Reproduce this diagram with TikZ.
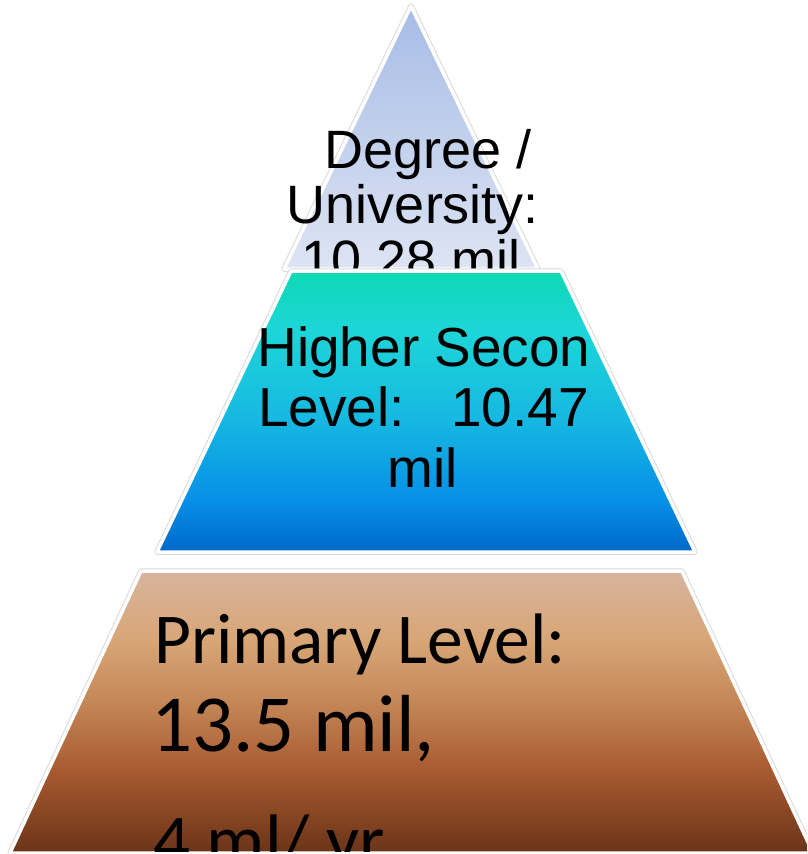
\documentclass[tikz,border=0pt]{standalone}
\usepackage{fontspec}
\setmainfont{Liberation Sans}
\newfontfamily\calfont{Carlito}
\definecolor{topT}{HTML}{A7BCE6}
\definecolor{topB}{HTML}{DDE4F3}
\definecolor{midA}{HTML}{0DD8B4}
\definecolor{midB}{HTML}{1DD6D8}
\definecolor{midC}{HTML}{16B8E2}
\definecolor{midD}{HTML}{0690E6}
\definecolor{midE}{HTML}{0068C8}
\definecolor{botA}{HTML}{D8B49E}
\definecolor{botB}{HTML}{D8A676}
\definecolor{botC}{HTML}{C58858}
\definecolor{botD}{HTML}{A85A30}
\definecolor{botE}{HTML}{6A3418}
\pgfdeclareverticalshading{topshade}{100bp}{color(0bp)=(topB); color(25bp)=(topB); color(75bp)=(topT); color(100bp)=(topT)}
\pgfdeclareverticalshading{midshade}{100bp}{color(0bp)=(midE); color(25bp)=(midE); color(34.3bp)=(midD); color(48.5bp)=(midC); color(64.5bp)=(midB); color(75bp)=(midA); color(100bp)=(midA)}
\pgfdeclareverticalshading{botshade}{100bp}{color(0bp)=(botE); color(25bp)=(botE); color(39.7bp)=(botD); color(52.1bp)=(botC); color(62.8bp)=(botB); color(75bp)=(botA); color(100bp)=(botA)}
\begin{document}
\begin{tikzpicture}[x=1pt,y=-1pt,
  tiershadow/.style={draw=black!15,line width=5.5pt,line join=round},
  tierface/.style={draw=white,line width=3.5pt,line join=round},
  arialtext/.style={font=\fontsize{54}{54}\selectfont,inner sep=0pt,anchor=base},
  midtext/.style={font=\fontsize{55}{55}\selectfont,inner sep=0pt,anchor=base},
  caltext/.style={inner sep=0pt,anchor=base west}]
\useasboundingbox (0,0) rectangle (807,854);
\clip (0,0) rectangle (807,854);
% top tier
\coordinate (apex) at (411,6);
\coordinate (tbl) at (284,269);
\coordinate (tbr) at (538,269);
\path[tiershadow] (apex) -- (tbl) -- (tbr) -- cycle;
\path[tierface,shading=topshade] (apex) -- (tbl) -- (tbr) -- cycle;
\node[arialtext] (deg1) at (428.5,168) {Degree /};
\node[arialtext] (deg2) at (413,223) {University:};
\node[arialtext] (deg3) at (411,278) {10.28 mil};
% middle tier
\coordinate (mtl) at (291,271);
\coordinate (mtr) at (561,271);
\coordinate (mbr) at (695,552);
\coordinate (mbl) at (157,552);
\path[tiershadow] (mtl) -- (mtr) -- (mbr) -- (mbl) -- cycle;
\path[tierface,shading=midshade] (mtl) -- (mtr) -- (mbr) -- (mbl) -- cycle;
\node[midtext] (hs1) at (424,366) {Higher Secon};
\node[midtext] (hs2) at (423.5,426) {Level:\hspace{46pt}10.47};
\node[midtext] (hs3) at (423,487) {mil};
% bottom tier
\coordinate (btl) at (141,571);
\coordinate (btr) at (682,571);
\coordinate (bbr) at (813,853);
\coordinate (bbl) at (10,853);
\path[tiershadow] (btl) -- (btr) -- (bbr) -- (bbl) -- cycle;
\path[tierface,shading=botshade] (btl) -- (btr) -- (bbr) -- (bbl) -- cycle;
\begin{scope}
\clip (0,0) rectangle (807,851);
\node[caltext,font=\calfont\fontsize{71.5}{72}\selectfont] (pr1) at (154,663) {Primary Level:};
\node[caltext,font=\calfont\fontsize{81}{81}\selectfont] (pr2) at (151,751) {13.5 mil,};
\node[caltext,font=\calfont\fontsize{73}{73}\selectfont] (pr3) at (153,865) {4 ml/ yr};
\end{scope}
\end{tikzpicture}
\end{document}
